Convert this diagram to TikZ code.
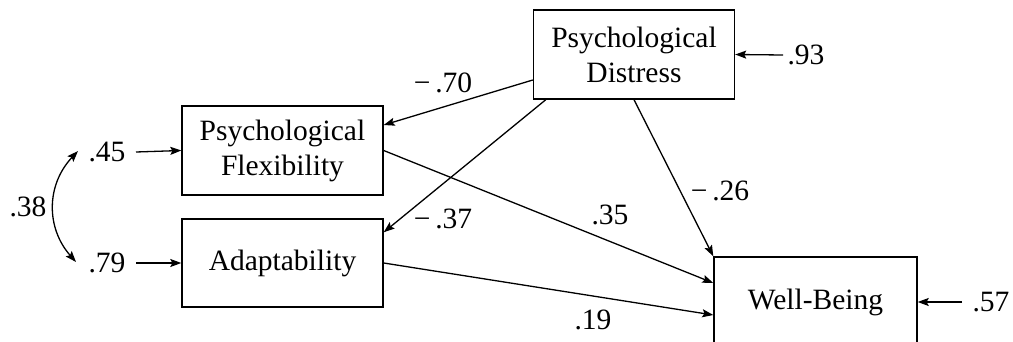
\documentclass[tikz,border=0pt]{standalone}
\usepackage{fontspec}
\setmainfont{Liberation Serif}
\usetikzlibrary{arrows.meta,calc}
\begin{document}
\begin{tikzpicture}[x=1pt,y=-1pt,
  every node/.style={font=\fontsize{29.5}{35}\selectfont, inner sep=0pt},
  varbox/.style={draw, line width=1.4pt, minimum width=201pt, minimum height=89pt, align=center},
  path/.style={line width=1.3pt, -{Stealth[length=11pt,width=8pt,inset=2pt]}},
  lbl/.style={anchor=center}]
\clip (0,0) rectangle (1013,342);
\fill[white] (0,0) rectangle (1013,342);
% boxes
\node[varbox] (PD) at (634,54.5) {Psychological\\Distress};
\node[varbox] (PF) at (282.5,150.5) {Psychological\\Flexibility};
\node[varbox, minimum height=88pt] (AD) at (282.5,263) {Adaptability};
\node[varbox, minimum width=203pt, minimum height=90pt] (WB) at (815.5,302) {Well-Being};
% error terms
\node[lbl] (e93) at (806,55) {.93};
\node[lbl] (e57) at (991,302) {.57};
\node[lbl] (e45) at (107,152) {.45};
\node[lbl] (e79) at (107,263) {.79};
\node[lbl] (r38) at (28,207) {.38};
\coordinate (s93) at (783,55);
\coordinate (s57) at (962,302);
\coordinate (s45) at (136,152);
\coordinate (s79) at (136,263);
\draw[path] (s93) -- (PD.east);
\draw[path] (s57) -- (WB.east);
\draw[path] (s45) -- (PF.west);
\draw[path] (s79) -- (AD.west);
\coordinate (c1) at (78,151);
\coordinate (c2) at (76,262);
\draw[line width=1.3pt, {Stealth[length=11pt,width=8pt,inset=2pt]}-{Stealth[length=11pt,width=8pt,inset=2pt]}]
  (c1) .. controls (46,185) and (46,228) .. (c2);
% structural paths
\draw[path] ($(PD.west)+(0,25.5)$) -- ($(PF.east)+(0,-25.5)$);
\draw[path] ($(PD.south west)+(13,0)$) -- ($(AD.north east)+(0,14)$);
\draw[path] (PD.south) -- (WB.north west);
\draw[path] (PF.east) -- ($(WB.west)+(0,-19)$);
\draw[path] (AD.east) -- ($(WB.west)+(0,13)$);
% path labels
\node[lbl] (l70) at (443,83) {−\,.70};
\node[lbl] (l37) at (443,219) {−\,.37};
\node[lbl] (l26) at (720,191) {−\,.26};
\node[lbl] (l35) at (610,215) {.35};
\node[lbl] (l19) at (593,320) {.19};
\end{tikzpicture}
\end{document}
